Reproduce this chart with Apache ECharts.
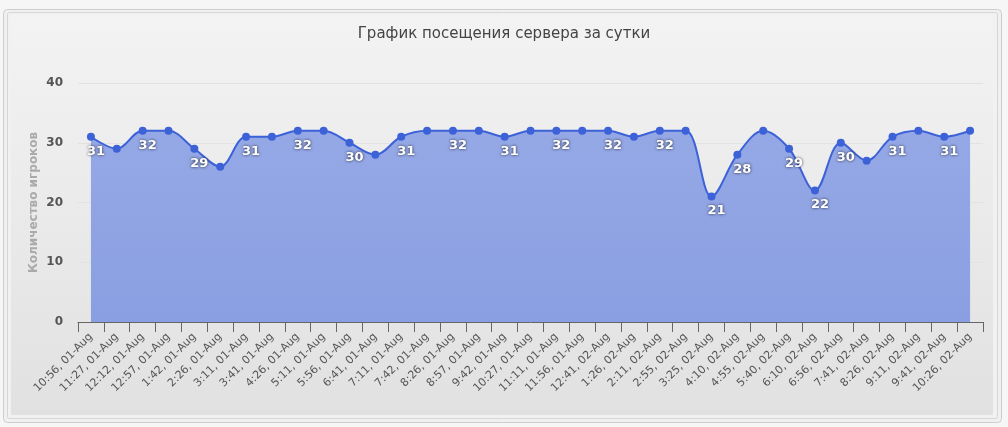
<!DOCTYPE html>
<html><head><meta charset="utf-8">
<script src="https://cdn.jsdelivr.net/npm/echarts@6/dist/echarts.min.js"></script>
<style>html,body{margin:0;padding:0;background:#f6f6f6;}#c{width:1008px;height:427px;}</style>
</head><body><div id="c"></div>
<script>
const titleText = 'График посещения сервера за сутки';
const yAxisName = 'Количество игроков';
const categories = ['10:56, 01-Aug','11:27, 01-Aug','12:12, 01-Aug','12:57, 01-Aug','1:42, 01-Aug','2:26, 01-Aug','3:11, 01-Aug','3:41, 01-Aug','4:26, 01-Aug','5:11, 01-Aug','5:56, 01-Aug','6:41, 01-Aug','7:11, 01-Aug','7:42, 01-Aug','8:26, 01-Aug','8:57, 01-Aug','9:42, 01-Aug','10:27, 01-Aug','11:11, 01-Aug','11:56, 01-Aug','12:41, 02-Aug','1:26, 02-Aug','2:11, 02-Aug','2:55, 02-Aug','3:25, 02-Aug','4:10, 02-Aug','4:55, 02-Aug','5:40, 02-Aug','6:10, 02-Aug','6:56, 02-Aug','7:41, 02-Aug','8:26, 02-Aug','9:11, 02-Aug','9:41, 02-Aug','10:26, 02-Aug'];
const players = [31,29,32,32,29,26,31,31,32,32,30,28,31,32,32,32,31,32,32,32,32,31,32,32,21,28,32,29,22,30,27,31,32,31,32];
const labelled = [1,0,1,0,1,0,1,0,1,0,1,0,1,0,1,0,1,0,1,0,1,0,1,0,1,1,0,1,1,1,0,1,0,1,0];
const yTicks = [0,10,20,30,40];

const chart = echarts.init(document.getElementById('c'), null, {renderer:'canvas'});
const seriesData = players.map((v,i)=>({value:v,label:{show:!!labelled[i]}}));
chart.setOption({
  backgroundColor:'#f6f6f6',
  animation:false,
  graphic:[
    {type:'rect',z:-10,shape:{x:3.5,y:9.5,width:998,height:413,r:4},style:{fill:'#f0f0f0',stroke:'#cdcdcd',lineWidth:1}},
    {type:'rect',z:-9,shape:{x:7.5,y:12.5,width:990,height:406,r:2},style:{fill:'#f1f1f1',stroke:'#d6d6d6',lineWidth:1}},
    {type:'rect',z:-8,shape:{x:11,y:15,width:982,height:400},style:{fill:new echarts.graphic.LinearGradient(0,0,0,1,[{offset:0,color:'#f3f3f3'},{offset:1,color:'#e1e1e1'}])}}
  ],
  title:{text:titleText,left:'center',top:22,textStyle:{fontFamily:'DejaVu Sans',fontSize:15,fontWeight:'normal',color:'#444'}},
  grid:{left:78,right:25,top:83,bottom:105},
  xAxis:{type:'category',data:categories,boundaryGap:true,
    axisLine:{lineStyle:{color:'#666',width:1}},
    axisTick:{show:true,length:10,lineStyle:{color:'#666'},alignWithLabel:false},
    axisLabel:{rotate:45,interval:0,fontFamily:'DejaVu Sans',fontSize:11,color:'#555',margin:13}},
  yAxis:{type:'value',min:0,max:40,interval:10,
    name:yAxisName,nameLocation:'middle',nameGap:38,nameRotate:90,nameMoveOverlap:false,
    nameTextStyle:{fontFamily:'DejaVu Sans',fontSize:12,fontWeight:'bold',color:'#aaaaaa'},
    axisLine:{show:false},axisTick:{show:false},
    axisLabel:{fontFamily:'DejaVu Sans',fontSize:12,fontWeight:'bold',color:'#555',margin:15,
      formatter:v=>yTicks.includes(v)?String(v):''},
    splitLine:{lineStyle:{color:'#e2e2e2',width:1}}},
  series:[{type:'line',data:seriesData,smooth:0.35,symbol:'circle',symbolSize:8,
    lineStyle:{color:'#3d62d8',width:2},itemStyle:{color:'#3d62d8'},
    areaStyle:{color:new echarts.graphic.LinearGradient(0,0,0,1,[{offset:0,color:'#95a8e6'},{offset:1,color:'#8a9fe1'}]),opacity:1},
    label:{position:'bottom',distance:4,offset:[5,0],color:'#fff',fontFamily:'DejaVu Sans',fontSize:13,fontWeight:'bold',
      textShadowColor:'rgba(0,0,0,0.8)',textShadowBlur:3,textShadowOffsetX:0,textShadowOffsetY:0}
  }]
});
</script></body></html>
